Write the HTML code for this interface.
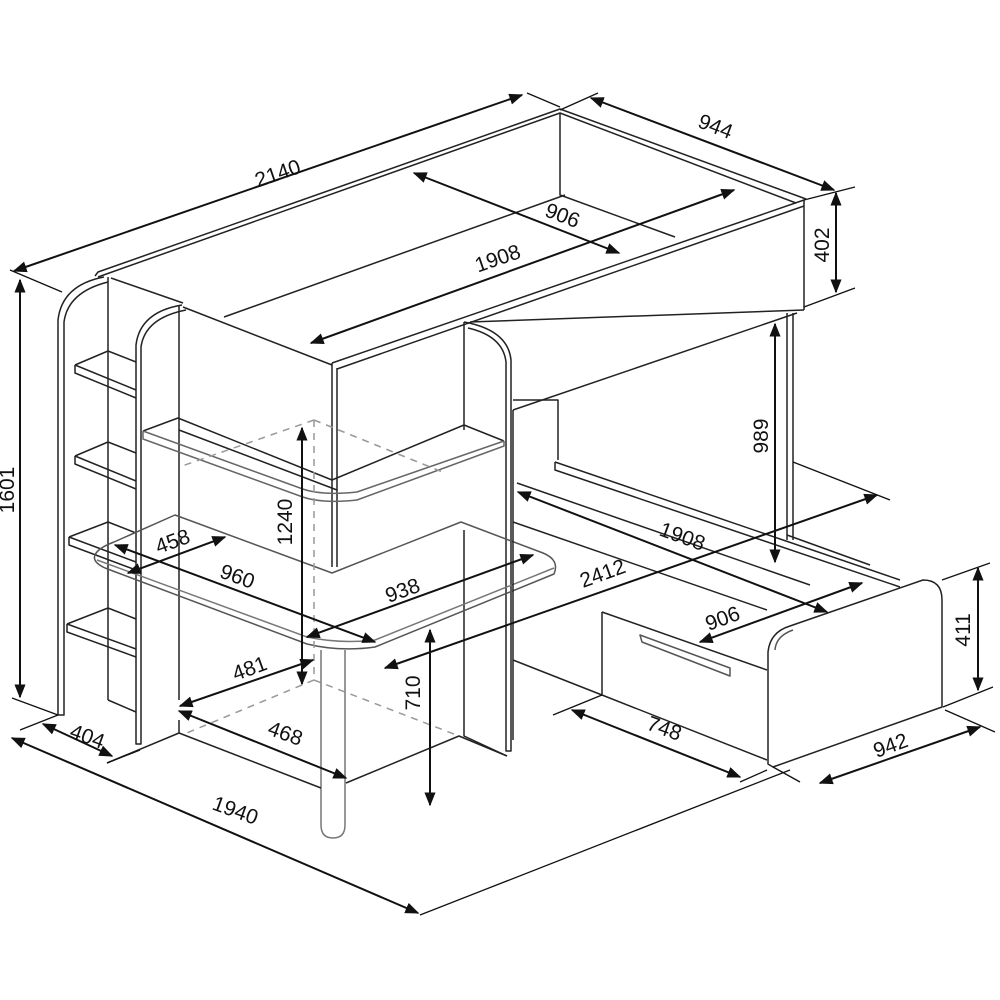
<!DOCTYPE html>
<html><head><meta charset="utf-8"><style>
html,body{margin:0;padding:0;background:#fff;}
svg{display:block;}
text{font-family:"Liberation Sans",Arial,sans-serif;font-size:21px;fill:#111;}
</style></head><body>
<svg width="1000" height="1000" viewBox="0 0 1000 1000" xmlns="http://www.w3.org/2000/svg">
<defs>
<marker id="a" viewBox="0 0 10 10" refX="9" refY="5" markerWidth="7" markerHeight="7" orient="auto-start-reverse"><path d="M0,1 L10,5 L0,9 z" fill="#111"/></marker>
</defs>
<g fill="none" stroke="#222" stroke-width="1.5" stroke-linejoin="round">
<path d="M95,276 L98,272 L560,109 L806,199"/>
<path d="M98,277 L560,113 L796,203"/>
<path d="M560,113 L560,195 L675,237"/>
<path d="M224,317 L565,195"/>
<path d="M332,363 L804,200 L804,310"/>
<path d="M337,369 L804,206"/>
<path d="M111,278 L183,303 M183,307 L332,365"/>
<path d="M470,322 L804,310"/>
<path d="M513,410 L797,313"/>
<path d="M179,305 L179,700"/>
<path d="M332,363 L332,567 M337,368 L337,567"/>
<path d="M179,430 L337,490"/>
<path d="M104,277 Q62,285 58,320 L58,715 L64,715 L64,322 Q68,292 108,282"/>
<path d="M182,305 Q140,312 136,345 L136,744 L141,744 L141,347 Q145,318 186,310"/>
<g>
<path d="M75,365 L108,351 L136,362 M75,365 L136,390 M75,365 L75,373 L136,398"/>
<path d="M75,456 L108,442 L136,453 M75,456 L136,481 M75,456 L75,464 L136,489"/>
<path d="M69,537 L108,522 L136,533 M69,537 L136,562 M69,537 L69,545 L136,570"/>
<path d="M67,624 L108,608 L136,619 M67,624 L136,649 M67,624 L67,632 L136,657"/>
<path d="M108,277 L108,700 M108,700 L136,712"/>
</g>
<path d="M464,322 L464,430 M464,322 Q508,330 511,360 L511,751 L506,751 L506,362 Q503,336 468,328"/>
<path d="M464,530 L464,736 L507,756"/>
<path d="M143,431 L178,418 L332,480 M332,480 L464,425 L504,441"/>
<path d="M143,431 L143,439 L300,496 Q320,504 357,500 L504,446 L504,441 M143,431 L300,488 Q320,496 357,492 L504,441" stroke="#666"/>
<path d="M114,542 L175,515 L332,573 L461,522 L543,553 Q560,560 554,574 L375,647 Q340,652 307,644 L105,568 Q92,562 95,555 Q98,548 114,542 Z" stroke="#555"/>
<path d="M97,560 L307,637 Q340,644 375,640 L554,568" stroke="#777"/>
<path d="M321,650 L321,825 Q321,838 333,838 Q345,838 345,825 L345,650" stroke="#777"/>
<path d="M107,763 L179,733 L321,788 M346,783 L459,736 L507,756"/>
<path d="M179,720 L179,733"/>
<path d="M314,420 L314,680 M314,420 L182,466 M314,420 L445,473 M314,680 L182,735 M314,680 L459,736" stroke="#999" stroke-dasharray="7,6"/>
<path d="M787,313 L787,540 M793,313 L793,540"/>
<path d="M513,410 L513,740 M513,400 L558,400 L558,460"/>
<path d="M555,462 L555,470 L900,587 M555,462 L900,580"/>
<path d="M517,483 L810,585 M513,522 L767,610"/>
<path d="M513,660 L602,695"/>
<path d="M602,612 L767,670 M602,612 L602,695 L767,760"/>
<path d="M640,635 L730,668 L730,676 L642,642 Z" stroke="#555"/>
<path d="M768,652 Q770,632 790,626 L923,580 Q942,580 942,600 L942,707 L773,767 L768,764 Z"/>
<path d="M775,650 Q776,636 793,630" stroke="#555"/>
<path d="M787,535 L870,565"/>
<g stroke="#111" stroke-width="1.3">
<path d="M527,93 L560,107 M598,93 L560,110"/>
<path d="M804,200 L855,187 M804,307 L855,288"/>
<path d="M10,270 L62,292"/>
<path d="M12,698 L58,715"/>
<path d="M20,730 L58,715 M107,763 L140,750"/>
<path d="M420,915 L790,770"/>
<path d="M793,462 L890,500"/>
<path d="M942,580 L990,563 M943,707 L993,687"/>
<path d="M553,715 L602,695 M773,767 L800,782 M945,710 L995,732"/>
<path d="M767,770 L740,782"/>
</g>
</g>
<g stroke="#111" stroke-width="2" fill="none" marker-start="url(#a)" marker-end="url(#a)">
<line x1="14" y1="271" x2="522" y2="95"/>
<line x1="591" y1="98" x2="834" y2="190"/>
<line x1="836" y1="193" x2="836" y2="292"/>
<line x1="414" y1="173" x2="619" y2="253"/>
<line x1="311" y1="343" x2="734" y2="190"/>
<line x1="20" y1="280" x2="20" y2="697"/>
<line x1="775" y1="324" x2="775" y2="562"/>
<line x1="302" y1="428" x2="302" y2="684"/>
<line x1="430" y1="630" x2="430" y2="805"/>
<line x1="978" y1="568" x2="978" y2="690"/>
<line x1="518" y1="492" x2="827" y2="612"/>
<line x1="385" y1="668" x2="877" y2="495"/>
<line x1="700" y1="642" x2="862" y2="583"/>
<line x1="128" y1="573" x2="225" y2="537"/>
<line x1="115" y1="545" x2="375" y2="642"/>
<line x1="307" y1="637" x2="533" y2="555"/>
<line x1="180" y1="706" x2="313" y2="660"/>
<line x1="179" y1="711" x2="346" y2="778"/>
<line x1="43" y1="724" x2="112" y2="756"/>
<line x1="12" y1="738" x2="418" y2="913"/>
<line x1="572" y1="710" x2="740" y2="777"/>
<line x1="820" y1="783" x2="980" y2="727"/>
</g>
<text transform="translate(280,180) rotate(-19)" text-anchor="middle">2140</text>
<text transform="translate(713,133) rotate(21)" text-anchor="middle">944</text>
<text transform="translate(829,245) rotate(-90)" text-anchor="middle">402</text>
<text transform="translate(560,222) rotate(21)" text-anchor="middle">906</text>
<text transform="translate(500,265) rotate(-19)" text-anchor="middle">1908</text>
<text transform="translate(14,490) rotate(-90)" text-anchor="middle">1601</text>
<text transform="translate(768,436) rotate(-90)" text-anchor="middle">989</text>
<text transform="translate(292,522) rotate(-90)" text-anchor="middle">1240</text>
<text transform="translate(420,693) rotate(-90)" text-anchor="middle">710</text>
<text transform="translate(970,630) rotate(-90)" text-anchor="middle">411</text>
<text transform="translate(680,543) rotate(20)" text-anchor="middle">1908</text>
<text transform="translate(605,580) rotate(-20)" text-anchor="middle">2412</text>
<text transform="translate(725,625) rotate(-20)" text-anchor="middle">906</text>
<text transform="translate(175,548) rotate(-20)" text-anchor="middle">458</text>
<text transform="translate(235,583) rotate(20)" text-anchor="middle">960</text>
<text transform="translate(405,597) rotate(-20)" text-anchor="middle">938</text>
<text transform="translate(252,675) rotate(-20)" text-anchor="middle">481</text>
<text transform="translate(283,740) rotate(20)" text-anchor="middle">468</text>
<text transform="translate(85,743) rotate(20)" text-anchor="middle">404</text>
<text transform="translate(233,817) rotate(20)" text-anchor="middle">1940</text>
<text transform="translate(662,735) rotate(20)" text-anchor="middle">748</text>
<text transform="translate(893,752) rotate(-20)" text-anchor="middle">942</text>
</svg>
</body></html>
